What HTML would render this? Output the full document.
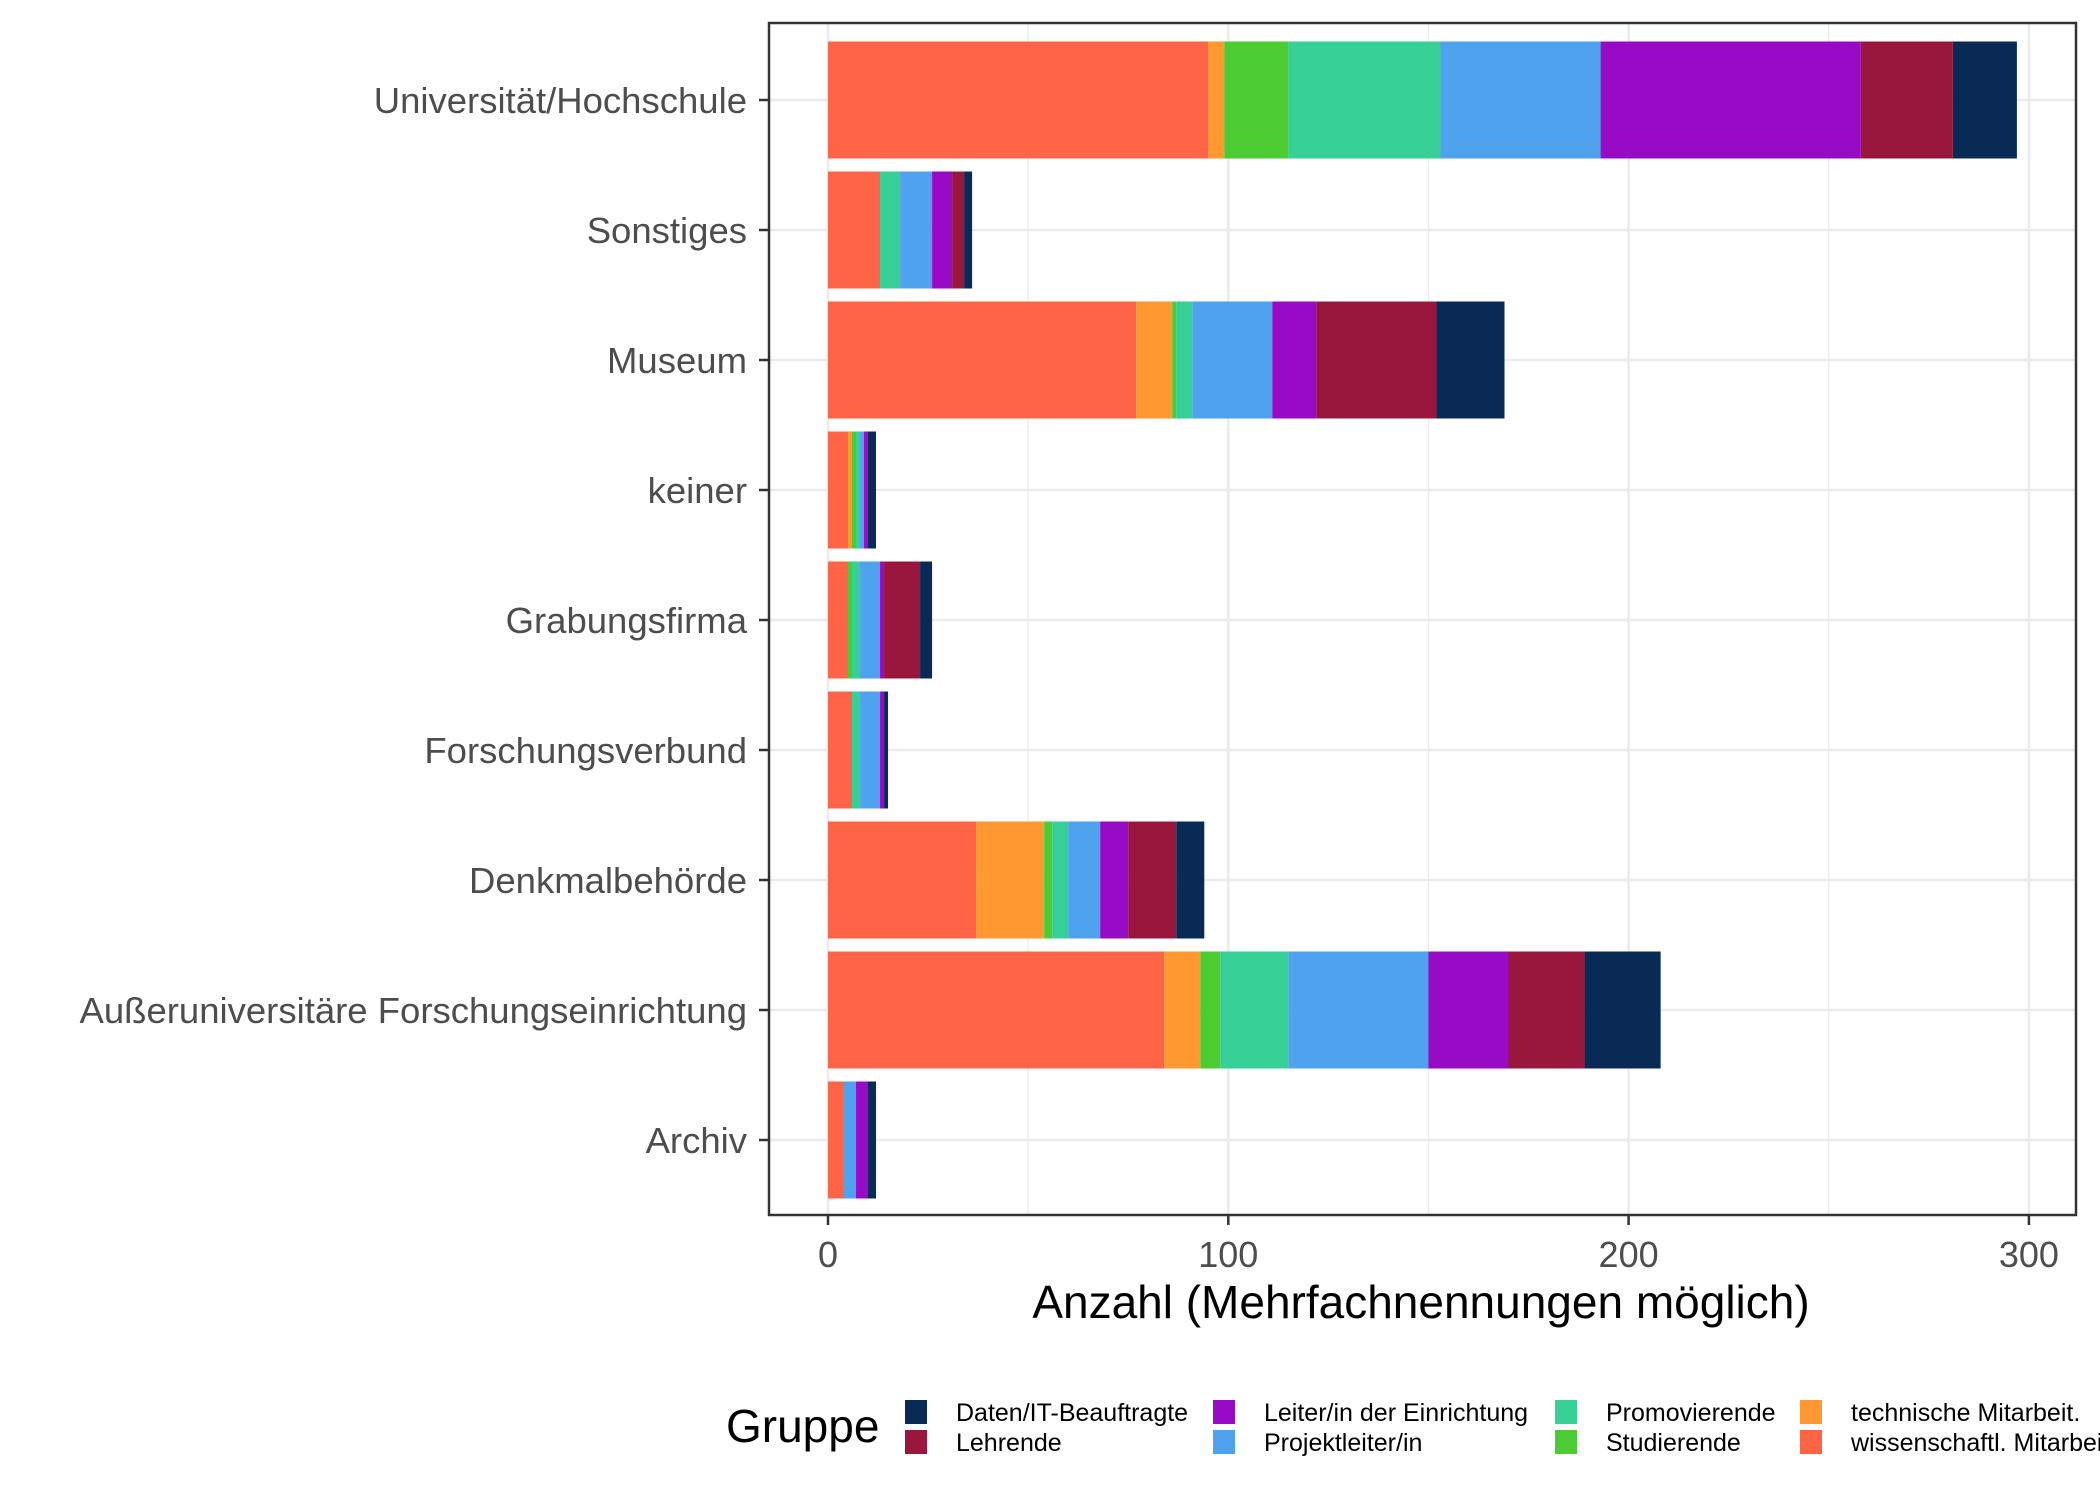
<!DOCTYPE html>
<html><head><meta charset="utf-8">
<style>
html,body{margin:0;padding:0;background:#fff;}
svg{display:block;font-family:"Liberation Sans",Arial,sans-serif;}
</style></head>
<body>
<svg id="chart" width="2100" height="1500" viewBox="0 0 2100 1500" xmlns="http://www.w3.org/2000/svg">
<rect x="0" y="0" width="2100" height="1500" fill="#fff"/>
<g id="grid"></g>
<g id="bars"></g>
<rect x="769" y="23" width="1307" height="1192" fill="none" stroke="#333" stroke-width="2.5"/>
<g id="yaxis"></g>
<g id="xaxis"></g>
<text x="1421" y="1318" font-size="46" text-anchor="middle" fill="#000">Anzahl (Mehrfachnennungen möglich)</text>
<g id="legend"></g>
</svg>
<script>
const categories = ["Universität/Hochschule","Sonstiges","Museum","keiner","Grabungsfirma","Forschungsverbund","Denkmalbehörde","Außeruniversitäre Forschungseinrichtung","Archiv"];
const groups = ["wissenschaftl. Mitarbeiter","technische Mitarbeit.","Studierende","Promovierende","Projektleiter/in","Leiter/in der Einrichtung","Lehrende","Daten/IT-Beauftragte"];
const wissenschaftl = [95,13,77,5,5,6,37,84,4];
const technisch = [4,0,9,1,0,0,17,9,0];
const studierende = [16,0,1,1,1,0,2,5,0];
const promovierende = [38,5,4,1,2,2,4,17,0];
const projektleiter = [40,8,20,1,5,5,8,35,3];
const leiter = [65,5,11,1,1,1,7,20,3];
const lehrende = [23,3,30,0,9,0,12,19,0];
const daten = [16,2,17,2,3,1,7,19,2];
const xTicks = [0,100,200,300];
const xMinor = [50,150,250];
const series = [wissenschaftl,technisch,studierende,promovierende,projektleiter,leiter,lehrende,daten];
const colors = ["#FF6446","#FF9830","#4CCB33","#36CF96","#4FA2EE","#970AC6","#99173D","#082A54"];

const NS="http://www.w3.org/2000/svg";
const X0=828, PX=4.003;
const xs = v => X0 + v*PX;
const ys = i => 100 + i*130;
const BH = 117;
function mk(tag, attrs, parent){const e=document.createElementNS(NS,tag);for(const k in attrs)e.setAttribute(k,attrs[k]);parent.appendChild(e);return e;}
const grid=document.getElementById('grid'), bars=document.getElementById('bars'), yax=document.getElementById('yaxis'), xax=document.getElementById('xaxis'), leg=document.getElementById('legend');

xMinor.forEach(v=>{const l=mk('line',{x1:xs(v),x2:xs(v),y1:23,y2:1215,stroke:'#EBEBEB','stroke-width':1.3},grid);

});
xTicks.forEach(v=>{const l=mk('line',{x1:xs(v),x2:xs(v),y1:23,y2:1215,stroke:'#EBEBEB','stroke-width':2.6},grid);

});
categories.forEach((c,i)=>{const l=mk('line',{x1:769,x2:2076,y1:ys(i),y2:ys(i),stroke:'#EBEBEB','stroke-width':2.6},grid);

});

categories.forEach((c,i)=>{
  let cum=0;
  series.forEach((s,k)=>{
    const v=s[i];
    if(v>0){
      const r=mk('rect',{x:xs(cum),y:ys(i)-BH/2,width:v*PX,height:BH,fill:colors[k]},bars);
      
      
    }
    cum+=v;
  });
  const t=mk('line',{x1:759,x2:769,y1:ys(i),y2:ys(i),stroke:'#333','stroke-width':2.5},yax);
  
  
  const tx=mk('text',{x:747,y:ys(i)+13,'font-size':36.5,'text-anchor':'end',fill:'#4D4D4D'},yax);
  tx.textContent=c;
  
  
});
xTicks.forEach(v=>{
  const t=mk('line',{x1:xs(v),x2:xs(v),y1:1215,y2:1225,stroke:'#333','stroke-width':2.5},xax);
  
  
  const tx=mk('text',{x:xs(v),y:1267,'font-size':36,'text-anchor':'middle',fill:'#4D4D4D'},xax);
  tx.textContent=v;
  
  
});

const lt=mk('text',{x:726,y:1442,'font-size':46,fill:'#000'},leg);
lt.textContent='Gruppe';


const legOrder=[7,5,3,1,6,4,2,0];
const colX=[905,1213,1555,1800], rowY=[1400,1430];
legOrder.forEach((k,j)=>{
  const col=j%4,row=Math.floor(j/4);
  const r=mk('rect',{x:colX[col],y:rowY[row],width:22,height:24,fill:colors[k]},leg);
  
  
  const t=mk('text',{x:colX[col]+51,y:rowY[row]+21,'font-size':25,fill:'#000'},leg);
  t.textContent=groups[k];
  
  
});
</script>
</body></html>
